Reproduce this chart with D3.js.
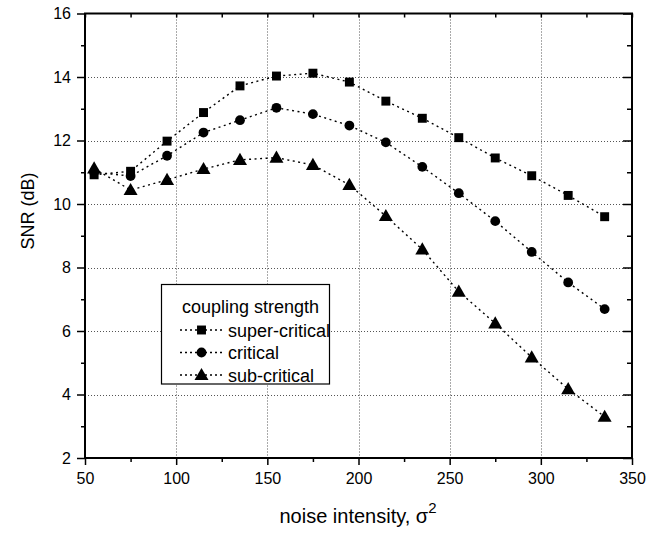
<!DOCTYPE html>
<html>
<head>
<meta charset="utf-8">
<script src="https://cdn.jsdelivr.net/npm/d3@7"></script>
<style>
  body { margin: 0; background: #fff; }
  svg { font-family: Arial, "Liberation Sans", sans-serif; }
</style>
</head>
<body>
<svg id="chart" width="648" height="533"></svg>
<script>
// Data.
var noise = [55, 75, 95, 115, 135, 155, 175, 195, 215, 235, 255, 275, 295, 315, 335];
var superCritical = [10.92, 11.03, 11.98, 12.88, 13.72, 14.03, 14.12, 13.84, 13.24, 12.70, 12.09, 11.45, 10.89, 10.27, 9.60];
var critical = [11.0, 10.88, 11.52, 12.25, 12.64, 13.03, 12.83, 12.47, 11.94, 11.17, 10.34, 9.46, 8.49, 7.53, 6.69];
var subCritical = [11.12, 10.44, 10.76, 11.1, 11.39, 11.46, 11.23, 10.6, 9.62, 8.57, 7.24, 6.24, 5.17, 4.17, 3.3];
var seriesNames = ['super-critical', 'critical', 'sub-critical'];
var seriesSymbols = [d3.symbolSquare, d3.symbolCircle, d3.symbolTriangle];
var seriesSizes = [80, 75, 85];
var xTicks = [50, 100, 150, 200, 250, 300, 350];
var xMinor = [75, 125, 175, 225, 275, 325];
var yTicks = [2, 4, 6, 8, 10, 12, 14, 16];
var yMinor = [3, 5, 7, 9, 11, 13, 15];

var LEFT = 85, RIGHT = 632, TOP = 13.5, BOTTOM = 458;

var svg = d3.select('#chart');
var x = d3.scaleLinear().domain([50, 350]).range([LEFT, RIGHT]);
var y = d3.scaleLinear().domain([2, 16]).range([BOTTOM, TOP]);

// Grid lines.
var grid = svg.append('g').attr('stroke', '#555').attr('stroke-width', 1)
  .attr('stroke-dasharray', '1,2');
grid.selectAll('.vg').data(xTicks.slice(1, -1)).enter().append('line')
  .attr('x1', function(d){ return Math.round(x(d)) + 0.5; })
  .attr('x2', function(d){ return Math.round(x(d)) + 0.5; })
  .attr('y1', TOP).attr('y2', BOTTOM);
grid.selectAll('.hg').data(yTicks.slice(1, -1)).enter().append('line')
  .attr('y1', function(d){ return Math.round(y(d)) + 0.5; })
  .attr('y2', function(d){ return Math.round(y(d)) + 0.5; })
  .attr('x1', LEFT).attr('x2', RIGHT);

// Axes.
var styleAxis = function(g) {
  g.select('.domain').remove();
  g.selectAll('line').attr('stroke', '#000').attr('stroke-width', 1.5);
  g.selectAll('text').attr('font-size', 16).attr('fill', '#000')
    .attr('font-family', 'Arial, "Liberation Sans", sans-serif');
};

svg.append('g').attr('transform', 'translate(0,' + BOTTOM + ')')
  .call(d3.axisBottom(x).tickValues(xTicks).tickSize(7).tickPadding(8).tickFormat(d3.format('d')))
  .call(styleAxis);
svg.append('g').attr('transform', 'translate(0,' + BOTTOM + ')')
  .call(d3.axisBottom(x).tickValues(xMinor).tickSize(4).tickFormat(''))
  .call(styleAxis);
svg.append('g').attr('transform', 'translate(0,' + TOP + ')')
  .call(d3.axisBottom(x).tickValues(xTicks.concat(xMinor)).tickSize(4).tickFormat(''))
  .call(styleAxis);

svg.append('g').attr('transform', 'translate(' + LEFT + ',0)')
  .call(d3.axisLeft(y).tickValues(yTicks).tickSize(8).tickPadding(6).tickFormat(d3.format('d')))
  .call(styleAxis);
svg.append('g').attr('transform', 'translate(' + LEFT + ',0)')
  .call(d3.axisLeft(y).tickValues(yMinor).tickSize(4).tickFormat(''))
  .call(styleAxis);
svg.append('g').attr('transform', 'translate(' + RIGHT + ',0)')
  .call(d3.axisLeft(y).tickValues(yTicks).tickSize(9).tickFormat(''))
  .call(styleAxis);
svg.append('g').attr('transform', 'translate(' + RIGHT + ',0)')
  .call(d3.axisLeft(y).tickValues(yMinor).tickSize(5).tickFormat(''))
  .call(styleAxis);

// Frame.
svg.append('rect')
  .attr('x', LEFT).attr('y', TOP)
  .attr('width', RIGHT - LEFT).attr('height', BOTTOM - TOP)
  .attr('fill', 'none').attr('stroke', '#000').attr('stroke-width', 2);

// Series.
var allSeries = [superCritical, critical, subCritical];
var line = d3.line()
  .x(function(d){ return x(d[0]); })
  .y(function(d){ return y(d[1]); });

allSeries.forEach(function(vals, k) {
  var pts = noise.map(function(n, i){ return [n, vals[i]]; });
  var g = svg.append('g');
  g.append('path').datum(pts).attr('d', line)
    .attr('fill', 'none').attr('stroke', '#000')
    .attr('stroke-width', 1.4).attr('stroke-dasharray', '2,3.5');
  g.selectAll('path.m').data(pts).enter().append('path')
    .attr('class', 'm')
    .attr('d', d3.symbol().type(seriesSymbols[k]).size(seriesSizes[k]))
    .attr('transform', function(d){
      var dy = k === 2 ? 1 : 0;
      return 'translate(' + x(d[0]) + ',' + (y(d[1]) + dy) + ')';
    })
    .attr('fill', '#000');
});

// Legend.
var legend = svg.append('g');
legend.append('rect')
  .attr('x', 161.5).attr('y', 284.5).attr('width', 168).attr('height', 99.5)
  .attr('fill', '#fff').attr('stroke', '#000').attr('stroke-width', 1.2);
legend.append('text').attr('x', 182).attr('y', 313)
  .attr('font-size', 18).text('coupling strength');
seriesNames.forEach(function(name, k) {
  var ly = 330 + k * 22.5;
  legend.append('line').attr('x1', 180).attr('x2', 225)
    .attr('y1', ly).attr('y2', ly)
    .attr('stroke', '#000').attr('stroke-width', 1.4).attr('stroke-dasharray', '2,3');
  legend.append('path')
    .attr('d', d3.symbol().type(seriesSymbols[k]).size(seriesSizes[k])())
    .attr('transform', 'translate(201.5,' + (ly + (k === 2 ? 1 : 0)) + ')')
    .attr('fill', '#000');
  legend.append('text').attr('x', 228).attr('y', ly + 6.5)
    .attr('font-size', 18).text(name);
});

// Axis titles.
var xt = svg.append('text').attr('x', 358).attr('y', 523)
  .attr('text-anchor', 'middle').attr('font-size', 20);
xt.append('tspan').text('noise intensity, \u03c3');
xt.append('tspan').attr('dy', -10).attr('font-size', 15).text('2');

svg.append('text')
  .attr('transform', 'translate(34,211) rotate(-90)')
  .attr('text-anchor', 'middle').attr('font-size', 18)
  .text('SNR (dB)');
</script>
</body>
</html>
